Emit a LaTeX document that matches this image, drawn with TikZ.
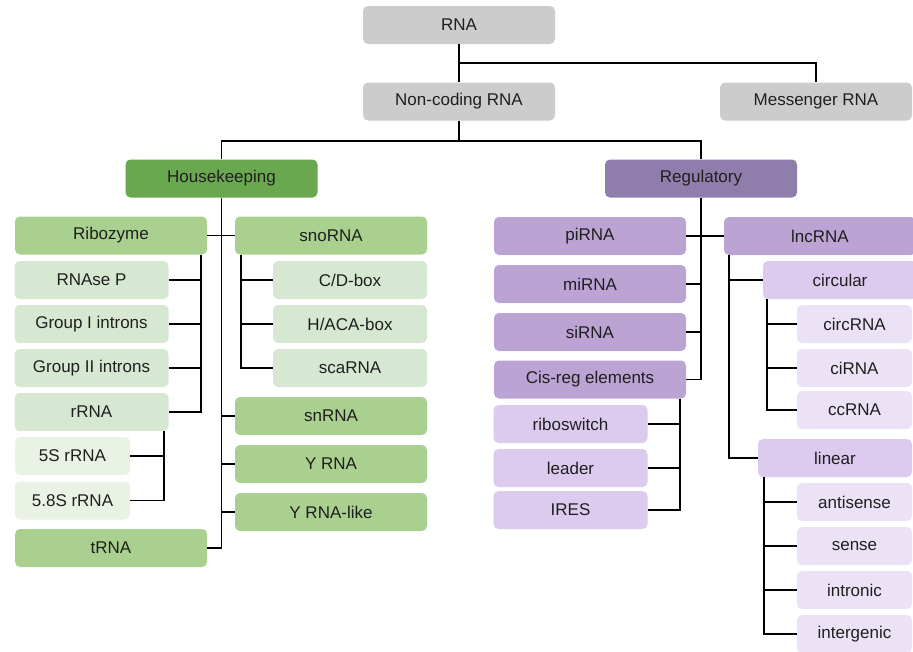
\documentclass[tikz,border=0pt]{standalone}
\usepackage{fontspec}
\setmainfont{Liberation Sans}
\usepackage{tikz}
\usetikzlibrary{positioning}
\definecolor{rnagray}{HTML}{CCCCCC}
\definecolor{hkgreen}{HTML}{6AA84F}
\definecolor{grnmid}{HTML}{A9D08E}
\definecolor{grnlight}{HTML}{D6E8D1}
\definecolor{grnpale}{HTML}{E9F2E5}
\definecolor{regpurple}{HTML}{8F7EAB}
\definecolor{purmid}{HTML}{BBA3D4}
\definecolor{purlight}{HTML}{DCCBEE}
\definecolor{purpale}{HTML}{ECE2F6}
\tikzstyle{rnabox} = [rectangle, rounded corners=5pt, inner sep=0pt, minimum height=38pt, text=black!88, font=\fontsize{17}{20}\selectfont]
\tikzstyle{bigbox} = [rnabox, minimum width=192pt]
\tikzstyle{midbox} = [rnabox, minimum width=154pt]
\tikzstyle{smallbox} = [rnabox, minimum width=115pt]
\tikzstyle{link} = [draw=black, line width=1.8pt]

\begin{document}
\begin{tikzpicture}[x=1pt, y=-1pt]
      \useasboundingbox[fill=white] (0,0) rectangle (913,651);
      % top levels
      \node[bigbox, fill=rnagray] (rna) at (459,25) {RNA};
      \node[bigbox, fill=rnagray] (ncrna) at (459,101.5) {Non-coding RNA};
      \node[bigbox, fill=rnagray] (mrna) at (816,101.5) {Messenger RNA};
      \node[bigbox, fill=hkgreen] (house) at (221.5,178.5) {Housekeeping};
      \node[bigbox, fill=regpurple] (reg) at (701,178.5) {Regulatory};
      % housekeeping
      \node[bigbox, fill=grnmid] (ribozyme) at (111,235.5) {Ribozyme};
      \node[midbox, fill=grnlight] (rnasep) at (91.5,280) {RNAse P};
      \node[midbox, fill=grnlight] (groupi) at (91.5,324) {Group I introns};
      \node[midbox, fill=grnlight] (groupii) at (91.5,368) {Group II introns};
      \node[midbox, fill=grnlight] (rrna) at (91.5,412) {rRNA};
      \node[smallbox, fill=grnpale] (rrnafive) at (72.5,456) {5S rRNA};
      \node[smallbox, fill=grnpale] (rrnafiveeight) at (72.5,500.5) {5.8S rRNA};
      \node[bigbox, fill=grnmid] (trna) at (111,548) {tRNA};
      \node[bigbox, fill=grnmid] (snorna) at (331,235.5) {snoRNA};
      \node[midbox, fill=grnlight] (cdbox) at (350,280) {C/D-box};
      \node[midbox, fill=grnlight] (hacabox) at (350,324) {H/ACA-box};
      \node[midbox, fill=grnlight] (scarna) at (350,368) {scaRNA};
      \node[bigbox, fill=grnmid] (snrna) at (331,416) {snRNA};
      \node[bigbox, fill=grnmid] (yrna) at (331,464) {Y RNA};
      \node[bigbox, fill=grnmid] (yrnalike) at (331,512) {Y RNA-like};
      % regulatory
      \node[bigbox, fill=purmid] (pirna) at (590,236) {piRNA};
      \node[bigbox, fill=purmid] (mirna) at (590,284) {miRNA};
      \node[bigbox, fill=purmid] (sirna) at (590,332) {siRNA};
      \node[bigbox, fill=purmid] (cisreg) at (590,379.5) {Cis-reg elements};
      \node[midbox, fill=purlight] (riboswitch) at (570.5,424) {riboswitch};
      \node[midbox, fill=purlight] (leader) at (570.5,468) {leader};
      \node[midbox, fill=purlight] (ires) at (570.5,510) {IRES};
      \node[bigbox, fill=purmid] (lncrna) at (820,236) {lncRNA};
      \node[midbox, fill=purlight] (circular) at (840,280) {circular};
      \node[smallbox, fill=purpale] (circrna) at (854.5,324) {circRNA};
      \node[smallbox, fill=purpale] (cirna) at (854.5,368) {ciRNA};
      \node[smallbox, fill=purpale] (ccrna) at (854.5,410) {ccRNA};
      \node[midbox, fill=purlight] (linear) at (835,458) {linear};
      \node[smallbox, fill=purpale] (antisense) at (854.5,502) {antisense};
      \node[smallbox, fill=purpale] (sense) at (854.5,546) {sense};
      \node[smallbox, fill=purpale] (intronic) at (854.5,590) {intronic};
      \node[smallbox, fill=purpale] (intergenic) at (854.5,634) {intergenic};
      % bars for the sub-lists
      \coordinate (ribobar) at ([xshift=-6pt]ribozyme.south east);
      \coordinate (rrnabar) at ([xshift=-5pt]rrna.south east);
      \coordinate (snobar) at ([xshift=6pt]snorna.south west);
      \coordinate (cisbar) at ([xshift=-6pt]cisreg.south east);
      \coordinate (lncbar) at ([xshift=5pt]lncrna.south west);
      \coordinate (circbar) at ([xshift=4pt]circular.south west);
      \coordinate (linbar) at ([xshift=6pt]linear.south west);
      % connectors
      \draw[link] (rna) -- (ncrna);
      \draw[link] (rna.south) -- ++(0,19) -| (mrna.north);
      \draw[link] (ncrna.south) -- ++(0,20) -| (house.north);
      \draw[link] (ncrna.south) ++(0,20) -| (reg.north);
      \draw[link] (house.south) |- (trna.east);
      \draw[link] (ribozyme) -- (snorna);
      \foreach \n in {snrna, yrna, yrnalike}
        \draw[link] (\n.west) -- (\n.west -| house.south);
      \draw[link] (ribobar) |- (rrna.east);
      \foreach \n in {rnasep, groupi, groupii}
        \draw[link] (\n.east) -- (\n.east -| ribobar);
      \draw[link] (rrnabar) |- (rrnafiveeight.east);
      \draw[link] (rrnafive.east) -- (rrnafive.east -| rrnabar);
      \draw[link] (snobar) |- (scarna.west);
      \foreach \n in {cdbox, hacabox}
        \draw[link] (\n.west) -- (\n.west -| snobar);
      \draw[link] (reg.south) |- (cisreg.east);
      \draw[link] (pirna) -- (lncrna);
      \foreach \n in {mirna, sirna}
        \draw[link] (\n.east) -- (\n.east -| reg.south);
      \draw[link] (cisbar) |- (ires.east);
      \foreach \n in {riboswitch, leader}
        \draw[link] (\n.east) -- (\n.east -| cisbar);
      \draw[link] (lncbar) |- (linear.west);
      \draw[link] (circular.west) -- (circular.west -| lncbar);
      \draw[link] (circbar) |- (ccrna.west);
      \foreach \n in {circrna, cirna}
        \draw[link] (\n.west) -- (\n.west -| circbar);
      \draw[link] (linbar) |- (intergenic.west);
      \foreach \n in {antisense, sense, intronic}
        \draw[link] (\n.west) -- (\n.west -| linbar);
    \end{tikzpicture}
\end{document}
